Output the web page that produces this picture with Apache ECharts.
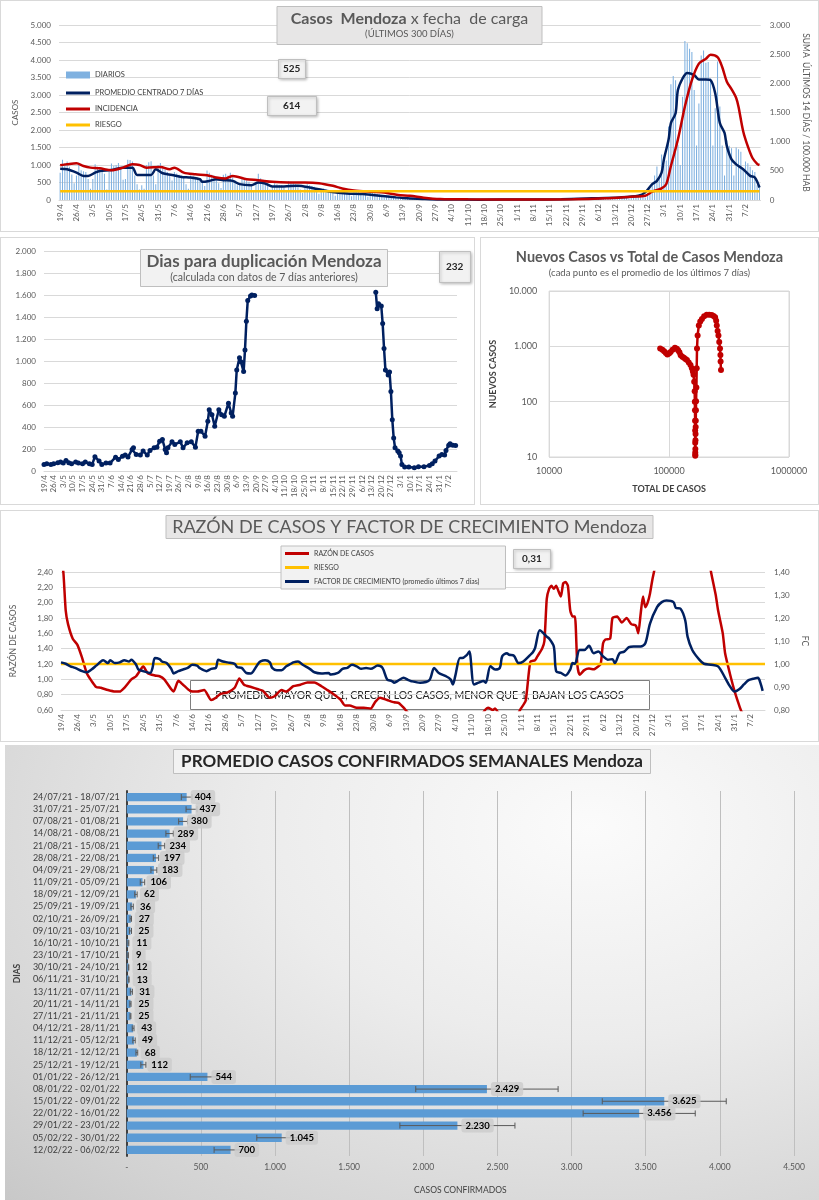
<!DOCTYPE html>
<html lang="es">
<head>
<meta charset="utf-8">
<title>Casos Mendoza</title>
<style>
	html, body { margin: 0; padding: 0; background: #fff; }
	.panel { position: absolute; box-sizing: border-box; border: 1px solid #d9d9d9; background: #fff; }
	#casos { left: 0; top: 0; width: 819px; height: 232px; }
	#duplicacion { left: 0; top: 237px; width: 475px; height: 268px; }
	#nuevos { left: 480px; top: 237px; width: 339px; height: 268px; }
	#razon { left: 0; top: 510px; width: 819px; height: 232px; }
	#semanal { left: 5px; top: 745px; width: 814px; height: 455px; border: none;
		background: radial-gradient(ellipse at 72% 18%, #fbfbfb 0%, #ececec 40%, #d2d2d2 85%, #c8c8c8 100%); }
</style>
</head>
<body>
<div class="panel" id="casos"></div>
<div class="panel" id="duplicacion"></div>
<div class="panel" id="nuevos"></div>
<div class="panel" id="razon"></div>
<div class="panel" id="semanal"></div>
<script src="https://cdn.jsdelivr.net/npm/echarts@6.0.0/dist/echarts.min.js"></script>
<script>
// fechas: 19/4/2021 a 13/2/2022 (300 días)
var fechas = [];
for (var k = 0; k < 301; k++) {
	var d = new Date(2021, 3, 19 + k);
	fechas.push(d.getDate() + '/' + (d.getMonth() + 1));
}

// casos diarios (una fila por semana, lunes a domingo)
var diarios = [
	780, 1150, 1050, 1100, 950, 730, 480,
	700, 1000, 850, 820, 800, 600, 320,
	600, 1020, 950, 900, 850, 750, 300,
	800, 1040, 980, 1000, 1060, 900, 580,
	600, 1150, 1140, 1100, 700, 450, 300,
	420, 320, 1000, 1080, 1110, 700, 450,
	1000, 1060, 950, 880, 800, 700, 560,
	800, 760, 720, 700, 650, 450, 320,
	700, 690, 660, 640, 600, 520, 400,
	840, 780, 720, 700, 650, 480, 340,
	720, 750, 700, 780, 650, 560, 420,
	450, 650, 600, 560, 520, 400, 280,
	500, 750, 620, 580, 540, 400, 300,
	380, 480, 450, 430, 420, 350, 280,
	540, 520, 480, 450, 420, 300, 200,
	400, 450, 420, 400, 380, 280, 180,
	320, 330, 310, 290, 260, 200, 120,
	180, 300, 280, 250, 230, 180, 110,
	220, 240, 220, 200, 190, 150, 90,
	280, 230, 200, 180, 160, 120, 70,
	110, 130, 120, 110, 100, 80, 50,
	70, 75, 70, 60, 55, 45, 30,
	40, 45, 40, 35, 30, 25, 15,
	30, 35, 30, 28, 25, 18, 12,
	25, 30, 28, 25, 22, 15, 10,
	12, 14, 12, 11, 10, 8, 5,
	8, 11, 10, 9, 9, 7, 5,
	12, 15, 13, 12, 12, 10, 8,
	13, 16, 14, 13, 12, 10, 8,
	30, 40, 35, 32, 30, 25, 18,
	25, 30, 28, 26, 24, 20, 15,
	25, 30, 28, 25, 24, 20, 16,
	40, 50, 45, 43, 42, 38, 30,
	50, 58, 52, 50, 48, 40, 32,
	70, 80, 72, 70, 65, 55, 45,
	100, 130, 125, 120, 140, 90, 70,
	200, 300, 420, 700, 960, 680, 1300,
	980, 1130, 2100, 3310, 3540, 3420, 1580,
	1000, 2950, 4540, 4480, 4320, 4230, 3140,
	1560, 2760, 4130, 4270, 3920, 3940, 3470,
	1560, 2620, 3960, 2670, 1560, 700, 1700,
	1550, 1480, 700, 1500, 1450, 1380, 900,
	1100, 1050, 950, 850, 800, 420, 400
];

// [día, valor]
var promedio7 = [[0,896],[3,877],[7,783],[10,689],[12,689],[15,783],[17,830],[22,858],[27,925],[31,925],[33,717],[39,717],[41,877],[44,764],[48,717],[52,660],[56,641],[60,594],[61,519],[64,547],[67,594],[70,566],[74,547],[77,453],[82,425],[85,500],[88,472],[91,387],[96,387],[102,406],[107,358],[112,292],[116,236],[123,189],[130,170],[137,123],[144,75],[149,47],[156,28],[163,15],[180,10],[200,14],[215,22],[228,47],[240,75],[248,123],[251,217],[254,453],[256,547],[258,783],[259,1160],[261,1726],[262,2198],[264,2481],[265,3141],[267,3472],[269,3632],[272,3566],[274,3443],[277,3443],[279,3424],[281,3047],[283,2198],[285,1915],[286,1538],[288,1160],[290,1019],[293,877],[296,689],[298,641],[300,358]];
var incidencia = [[0,594],[3,611],[7,628],[10,583],[13,555],[17,543],[22,509],[27,555],[31,611],[34,600],[37,555],[43,566],[47,526],[49,555],[53,470],[58,441],[63,425],[67,385],[71,368],[74,413],[80,357],[85,340],[91,311],[98,300],[105,300],[111,289],[117,243],[121,198],[126,164],[134,142],[139,130],[145,85],[150,74],[156,40],[163,17],[175,11],[200,10],[220,12],[234,28],[245,57],[251,74],[254,142],[258,198],[260,272],[262,583],[265,1036],[268,1602],[271,2055],[274,2338],[277,2422],[279,2490],[282,2451],[284,2281],[286,2026],[288,1900],[290,1750],[291,1600],[293,1180],[295,920],[297,720],[299,620],[300,600]];
var riesgoIncidencia = [[0,150],[300,150]];

var duplicacion = [[0,60],[2,66],[5,60],[7,66],[10,75],[12,81],[14,72],[16,96],[18,75],[20,66],[23,81],[25,72],[28,66],[30,81],[33,66],[35,60],[37,130],[40,90],[42,60],[45,72],[48,72],[52,126],[54,105],[57,135],[59,145],[61,127],[64,196],[65,211],[67,150],[70,145],[72,181],[75,145],[77,187],[80,211],[82,217],[84,271],[86,286],[88,196],[89,166],[90,211],[93,265],[95,241],[99,265],[101,211],[104,256],[107,265],[110,217],[112,361],[114,361],[117,316],[119,452],[120,557],[122,512],[124,407],[127,557],[129,512],[131,497],[134,617],[136,527],[137,497],[139,708],[140,919],[142,1030],[143,994],[145,904],[146,1099],[147,1361],[148,1551],[150,1590],[151,1600],[153,1596],[200,'-'],[241,1626],[242,1476],[243,1521],[245,1500],[246,1340],[247,1114],[248,919],[250,873],[251,900],[252,723],[253,467],[254,301],[255,211],[257,181],[258,166],[259,136],[260,60],[262,36],[265,36],[269,30],[272,39],[276,39],[280,51],[282,66],[284,90],[287,136],[289,151],[291,145],[292,187],[294,235],[295,247],[297,235],[299,232]];

// [total de casos, nuevos casos]
var nuevosVsTotal = [[84300,912],[88000,870],[91000,819],[94000,760],[96800,713],[100000,740],[103000,794],[107000,870],[112000,938],[116000,900],[119000,851],[122000,780],[125000,692],[129000,650],[133000,622],[137000,590],[141000,565],[146000,510],[151000,460],[155000,402],[158000,350],[160000,305],[162000,230],[163500,155],[164000,100],[164500,70],[164800,45],[165000,30],[165200,18],[165300,12],[165400,10.5],[165500,11],[165700,14],[166000,20],[166300,26],[166700,35],[167000,45],[167500,70],[168000,102],[169000,180],[170000,402],[171000,912],[173000,1577],[177000,2376],[182000,2800],[188000,3126],[196000,3500],[206000,3733],[216000,3720],[227000,3700],[235000,3550],[242000,3350],[247000,2900],[250000,2376],[254000,1900],[258000,1577],[262000,1200],[266000,912],[268000,700],[269000,530],[271000,375]];

var razonCasos = [[0,2.6],[1,2.4],[2,1.9],[3,1.72],[5,1.53],[7,1.45],[9,1.28],[11,1.08],[13,0.98],[15,0.9],[17,0.89],[20,0.86],[23,0.84],[25,0.84],[27,0.89],[30,1.0],[32,1.04],[34,1.13],[35,1.17],[37,1.08],[40,1.05],[42,1.04],[44,1.0],[47,0.87],[48,0.84],[50,0.98],[52,0.93],[55,0.85],[58,0.84],[61,0.86],[64,0.73],[66,0.76],[68,0.81],[71,0.83],[74,0.89],[76,1.01],[78,0.93],[81,0.9],[84,0.87],[86,0.85],[89,0.76],[91,0.78],[94,0.86],[96,0.84],[99,0.91],[102,0.93],[105,0.96],[108,0.96],[111,0.91],[113,0.87],[116,0.81],[119,0.74],[121,0.66],[123,0.66],[126,0.63],[129,0.63],[132,0.62],[134,0.71],[136,0.76],[139,0.73],[142,0.7],[144,0.69],[146,0.63],[148,0.56],[152,0.45],[160,0.35],[170,0.4],[178,0.5],[181,0.61],[182,0.63],[184,0.6],[185,0.62],[186,0.58],[190,0.45],[194,0.52],[196,0.62],[198,0.72],[200,1.23],[202,1.25],[203,1.3],[205,1.4],[206,1.5],[207,2.05],[208,2.18],[209,2.22],[210,2.18],[211,2.22],[212,2.15],[213,2.08],[214,2.25],[215,2.27],[216,2.22],[217,1.9],[218,1.82],[219,1.82],[220,1.2],[221,1.06],[223,1.12],[225,1.14],[227,1.13],[229,1.17],[230,1.2],[231,1.47],[232,1.52],[234,1.53],[235,1.8],[237,1.82],[239,1.74],[241,1.8],[243,1.72],[245,1.7],[246,1.6],[247,1.85],[248,2.08],[249,1.94],[250,2.0],[251,2.12],[252,2.3],[253,2.45],[256,3.2],[265,3.6],[272,3.2],[276,2.6],[277,2.4],[279,2.1],[280,1.9],[282,1.6],[283,1.34],[285,1.08],[287,0.85],[289,0.66],[290,0.58],[293,0.45],[300,0.31]];
var factorCrecimiento = [[0,1.007],[2,1.001],[4,0.99],[6,0.983],[9,0.969],[11,0.964],[13,0.976],[15,0.993],[17,1.011],[18,1.016],[20,1.004],[21,1.016],[23,1.004],[25,1.007],[27,1.016],[29,1.011],[30,1.019],[32,0.997],[33,0.976],[35,0.969],[38,0.961],[39,0.983],[40,1.026],[42,1.021],[43,1.011],[45,1.004],[47,0.979],[48,0.959],[50,0.969],[52,0.976],[54,0.983],[56,0.997],[58,0.993],[59,0.983],[62,0.969],[64,0.979],[66,0.983],[67,1.019],[69,1.011],[71,1.007],[74,1.001],[75,0.987],[77,0.983],[79,0.961],[81,0.959],[82,0.969],[84,1.001],[85,1.011],[87,1.016],[89,1.007],[90,0.983],[92,0.973],[94,0.973],[96,0.99],[98,1.001],[99,1.007],[101,1.011],[103,0.997],[106,0.979],[108,0.964],[111,0.959],[114,0.961],[115,0.954],[118,0.961],[120,0.979],[122,0.983],[124,0.997],[126,0.99],[128,0.979],[130,0.983],[132,0.979],[135,0.993],[137,0.983],[139,0.933],[141,0.926],[142,0.919],[144,0.93],[146,0.94],[148,0.93],[149,0.926],[153,0.919],[157,0.93],[159,0.983],[161,0.961],[164,0.947],[166,0.933],[167,0.911],[168,0.947],[170,1.026],[171,1.026],[173,1.04],[174,1.054],[176,0.911],[178,0.919],[180,0.926],[181,0.919],[183,0.99],[185,0.976],[187,0.983],[188,1.033],[190,1.047],[191,1.04],[193,1.036],[195,1.004],[197,1.011],[200,1.04],[201,1.05],[202,1.069],[204,1.147],[205,1.14],[207,1.119],[208,1.111],[210,1.076],[211,0.969],[213,0.961],[215,0.95],[217,0.976],[218,1.004],[219,1.001],[221,1.061],[223,1.061],[225,1.079],[227,1.047],[229,1.054],[231,1.033],[233,1.019],[235,1.021],[236,1.004],[238,1.047],[240,1.054],[242,1.073],[244,1.076],[247,1.076],[249,1.09],[251,1.176],[254,1.247],[256,1.269],[258,1.276],[261,1.269],[262,1.244],[264,1.24],[266,1.19],[267,1.119],[269,1.061],[272,1.019],[274,1.001],[277,0.997],[280,0.99],[283,0.94],[285,0.904],[287,0.88],[289,0.89],[291,0.911],[293,0.93],[295,0.936],[297,0.94],[298,0.919],[299,0.883]];
var riesgoFactor = [[0,1],[300,1]];

// promedio semanal
var semanas = ['24/07/21 - 18/07/21','31/07/21 - 25/07/21','07/08/21 - 01/08/21','14/08/21 - 08/08/21','21/08/21 - 15/08/21','28/08/21 - 22/08/21','04/09/21 - 29/08/21','11/09/21 - 05/09/21','18/09/21 - 12/09/21','25/09/21 - 19/09/21','02/10/21 - 26/09/21','09/10/21 - 03/10/21','16/10/21 - 10/10/21','23/10/21 - 17/10/21','30/10/21 - 24/10/21','06/11/21 - 31/10/21','13/11/21 - 07/11/21','20/11/21 - 14/11/21','27/11/21 - 21/11/21','04/12/21 - 28/11/21','11/12/21 - 05/12/21','18/12/21 - 12/12/21','25/12/21 - 19/12/21','01/01/22 - 26/12/21','08/01/22 - 02/01/22','15/01/22 - 09/01/22','22/01/22 - 16/01/22','29/01/22 - 23/01/22','05/02/22 - 30/01/22','12/02/22 - 06/02/22'];
var promedioSemanal = [404, 437, 380, 289, 234, 197, 183, 106, 62, 36, 27, 25, 11, 9, 12, 13, 31, 25, 25, 43, 49, 68, 112, 544, 2429, 3625, 3456, 2230, 1045, 700];
var errorSemanal = [36, 37, 30, 25, 22, 18, 20, 15, 8, 8, 5, 7, 3, 2, 2, 3, 7, 4, 3, 6, 8, 6, 17, 116, 480, 418, 378, 388, 168, 111];

var FUENTE = 'Lato, "Noto Sans", sans-serif';
var GRIS = '#595959';

function miles(v) {
	return String(Math.round(v)).replace(/\B(?=(\d{3})+(?!\d))/g, '.');
}
function coma(v) {
	return v.toFixed(2).replace('.', ',');
}
// cajita con un valor
function caja(texto, x, y, pad) {
	return {
		text: texto, left: x, top: y, padding: pad,
		backgroundColor: '#f2f2f2', borderColor: '#bfbfbf', borderWidth: 1,
		shadowBlur: 3, shadowColor: 'rgba(0,0,0,0.25)', shadowOffsetX: 1, shadowOffsetY: 1,
		textStyle: { fontSize: 10, fontWeight: 'bold', color: '#262626' }
	};
}
function ejeFechas(gap) {
	return {
		type: 'category', data: fechas, boundaryGap: gap,
		axisTick: { show: false },
		axisLine: { lineStyle: { color: '#d9d9d9' } },
		axisLabel: { interval: 6, rotate: 90, fontSize: 8, color: GRIS, margin: 4 }
	};
}

// 1) Casos x fecha de carga
var casos = echarts.init(document.getElementById('casos'));
casos.setOption({
	animation: false,
	textStyle: { fontFamily: FUENTE },
	title: [
		{
			text: '{b|Casos  Mendoza} x fecha  de carga', subtext: '(ÚLTIMOS 300 DÍAS)',
			left: 'center', top: 5, itemGap: 2, padding: [5, 14, 6, 14],
			backgroundColor: '#e7e6e6', borderColor: '#bfbfbf', borderWidth: 1,
			textStyle: { fontSize: 16, fontWeight: 'normal', color: GRIS,
				rich: { b: { fontSize: 16, fontWeight: 'bold', color: GRIS } } },
			subtextStyle: { fontSize: 9.5, color: GRIS }
		},
		caja('525', 277, 58, [5, 5]),
		caja('614', 266, 95, [5, 16])
	],
	legend: [
		{ data: ['DIARIOS'], left: 60, top: 65, icon: 'rect', itemWidth: 24, itemHeight: 7, selectedMode: false,
			textStyle: { fontSize: 7.5, color: '#404040' } },
		{ data: ['PROMEDIO CENTRADO 7 DÍAS', 'INCIDENCIA', 'RIESGO'], orient: 'vertical', left: 60, top: 83,
			icon: 'rect', itemWidth: 24, itemHeight: 3, itemGap: 8, selectedMode: false,
			textStyle: { fontSize: 7.5, color: '#404040' } }
	],
	grid: { left: 58, right: 52, top: 24, bottom: 31 },
	xAxis: ejeFechas(true),
	yAxis: [
		{
			type: 'value', min: 0, max: 5000, interval: 500,
			name: 'CASOS', nameLocation: 'middle', nameRotate: 90, nameGap: 40,
			nameTextStyle: { fontSize: 8, color: GRIS },
			axisLabel: { formatter: miles, fontSize: 8, color: GRIS },
			splitLine: { lineStyle: { color: '#d9d9d9' } }
		},
		{
			type: 'value', min: 0, max: 3000, interval: 500, position: 'right',
			name: 'SUMA  ÚLTIMOS 14 DÍAS / 100.000 HAB', nameLocation: 'middle', nameRotate: -90, nameGap: 38,
			nameTextStyle: { fontSize: 8.5, color: GRIS },
			axisLabel: { formatter: miles, fontSize: 8, color: GRIS, margin: 9 },
			splitLine: { show: false }
		}
	],
	series: [
		{ name: 'DIARIOS', type: 'bar', data: diarios, barCategoryGap: '55%', itemStyle: { color: '#7fb1e0' } },
		{ name: 'PROMEDIO CENTRADO 7 DÍAS', type: 'line', data: promedio7, showSymbol: false, smooth: 0.3,
			itemStyle: { color: '#002060' }, lineStyle: { color: '#002060', width: 2.5 } },
		{ name: 'INCIDENCIA', type: 'line', yAxisIndex: 1, data: incidencia, showSymbol: false, smooth: 0.3,
			itemStyle: { color: '#c00000' }, lineStyle: { color: '#c00000', width: 2.5 } },
		{ name: 'RIESGO', type: 'line', yAxisIndex: 1, data: riesgoIncidencia, showSymbol: false,
			itemStyle: { color: '#ffc000' }, lineStyle: { color: '#ffc000', width: 2.5 } }
	]
});

// 2) Dias para duplicación
var duplica = echarts.init(document.getElementById('duplicacion'));
duplica.setOption({
	animation: false,
	textStyle: { fontFamily: FUENTE },
	title: [
		{
			text: 'Dias para duplicación Mendoza', subtext: '(calculada con datos de 7 días anteriores)',
			left: 257, top: 11, textAlign: 'center', itemGap: 2, padding: [4, 6, 4, 6],
			backgroundColor: '#f2f2f2', borderColor: '#bfbfbf', borderWidth: 1,
			textStyle: { fontSize: 17, fontWeight: 'bold', color: GRIS },
			subtextStyle: { fontSize: 10.5, color: GRIS }
		},
		caja('232', 438, 13, [11, 7])
	],
	grid: { left: 43, right: 17, top: 13, bottom: 33 },
	xAxis: ejeFechas(false),
	yAxis: {
		type: 'value', min: 0, max: 2000, interval: 200,
		axisLabel: { formatter: miles, fontSize: 8, color: GRIS },
		splitLine: { lineStyle: { color: '#d9d9d9' } }
	},
	series: [{
		type: 'line', data: duplicacion, symbol: 'circle', symbolSize: 5, showAllSymbol: true,
		itemStyle: { color: '#002060' }, lineStyle: { color: '#002060', width: 2.5 }
	}]
});

// 3) Nuevos casos vs total (log-log)
var nuevos = echarts.init(document.getElementById('nuevos'));
nuevos.setOption({
	animation: false,
	textStyle: { fontFamily: FUENTE },
	title: {
		text: 'Nuevos Casos vs Total de Casos Mendoza', subtext: '(cada punto es el promedio de los últimos 7 días)',
		left: 'center', top: 7, itemGap: 3,
		textStyle: { fontSize: 14.5, fontWeight: 'bold', color: GRIS },
		subtextStyle: { fontSize: 9.5, color: GRIS }
	},
	grid: { left: 66, right: 29, top: 53, bottom: 47, show: true, borderColor: '#d9d9d9', borderWidth: 1 },
	xAxis: {
		type: 'log', logBase: 10, min: 10000, max: 1000000,
		name: 'TOTAL DE CASOS', nameLocation: 'middle', nameGap: 28,
		nameTextStyle: { fontSize: 9, fontWeight: 'bold', color: '#404040' },
		axisLine: { show: false }, axisTick: { show: false },
		axisLabel: { formatter: function (v) { return String(Math.round(v)); }, fontSize: 9, color: GRIS, margin: 10 },
		splitLine: { lineStyle: { color: '#d9d9d9' } }
	},
	yAxis: {
		type: 'log', logBase: 10, min: 10, max: 10000,
		name: 'NUEVOS CASOS', nameLocation: 'middle', nameRotate: 90, nameGap: 44,
		nameTextStyle: { fontSize: 9, fontWeight: 'bold', color: '#404040' },
		axisLine: { show: false }, axisTick: { show: false },
		axisLabel: { formatter: miles, fontSize: 9, color: GRIS, margin: 12 },
		splitLine: { lineStyle: { color: '#d9d9d9' } }
	},
	series: [{
		type: 'line', data: nuevosVsTotal, symbol: 'circle', symbolSize: 6,
		itemStyle: { color: '#c00000' }, lineStyle: { color: '#c00000', width: 2.5 }
	}]
});

// 4) Razón de casos y factor de crecimiento
var razon = echarts.init(document.getElementById('razon'));
razon.setOption({
	animation: false,
	textStyle: { fontFamily: FUENTE },
	title: [
		{
			text: 'RAZÓN DE CASOS Y FACTOR DE CRECIMIENTO Mendoza', left: 'center', top: 4, padding: [3, 6, 3, 6],
			backgroundColor: '#e7e6e6', borderColor: '#bfbfbf', borderWidth: 1,
			textStyle: { fontSize: 18, fontWeight: 'normal', color: GRIS }
		},
		caja('0,31', 512, 38, [5, 9])
	],
	legend: {
		data: ['RAZÓN DE CASOS', 'RIESGO', 'FACTOR DE CRECIMIENTO (promedio últimos 7 días)'],
		orient: 'vertical', left: 280, top: 35, padding: [4, 26, 4, 4], itemGap: 7,
		icon: 'rect', itemWidth: 24, itemHeight: 3, selectedMode: false,
		backgroundColor: '#f2f2f2', borderColor: '#bfbfbf', borderWidth: 1,
		textStyle: { fontSize: 7, color: '#404040' }
	},
	graphic: [{
		type: 'group', left: 187, top: 167,
		children: [
			{ type: 'rect', shape: { x: 0, y: 0, width: 459, height: 29 }, style: { fill: 'none', stroke: '#7f7f7f', lineWidth: 1 } },
			{ type: 'text', x: 229, y: 15, style: { text: 'PROMEDIO MAYOR QUE 1, CRECEN LOS CASOS, MENOR QUE 1, BAJAN LOS CASOS',
				align: 'center', verticalAlign: 'middle', fontSize: 10.5, fill: '#262626', fontFamily: FUENTE } }
		]
	}],
	grid: { left: 59, right: 53, top: 61, bottom: 31 },
	xAxis: ejeFechas(false),
	yAxis: [
		{
			type: 'value', min: 0.6, max: 2.4, interval: 0.2,
			name: 'RAZÓN DE CASOS', nameLocation: 'middle', nameRotate: 90, nameGap: 43,
			nameTextStyle: { fontSize: 8.5, color: GRIS },
			axisLabel: { formatter: coma, fontSize: 8, color: GRIS },
			splitLine: { lineStyle: { color: '#d9d9d9' } }
		},
		{
			type: 'value', min: 0.8, max: 1.4, interval: 0.1, position: 'right',
			name: 'FC', nameLocation: 'middle', nameRotate: -90, nameGap: 34,
			nameTextStyle: { fontSize: 8.5, color: GRIS },
			axisLabel: { formatter: coma, fontSize: 8, color: GRIS, margin: 9 },
			splitLine: { show: false }
		}
	],
	series: [
		{ name: 'RAZÓN DE CASOS', type: 'line', data: razonCasos, showSymbol: false, smooth: 0.2,
			itemStyle: { color: '#c00000' }, lineStyle: { color: '#c00000', width: 2.5 } },
		{ name: 'RIESGO', type: 'line', yAxisIndex: 1, data: riesgoFactor, showSymbol: false,
			itemStyle: { color: '#ffc000' }, lineStyle: { color: '#ffc000', width: 2.5 } },
		{ name: 'FACTOR DE CRECIMIENTO (promedio últimos 7 días)', type: 'line', yAxisIndex: 1, data: factorCrecimiento,
			showSymbol: false, smooth: 0.3,
			itemStyle: { color: '#002060' }, lineStyle: { color: '#002060', width: 2.5 } }
	]
});

// 5) Promedio semanal con barras de error
var semanal = echarts.init(document.getElementById('semanal'));
var errores = promedioSemanal.map(function (v, i) { return [v - errorSemanal[i], v + errorSemanal[i], i]; });
semanal.setOption({
	animation: false,
	textStyle: { fontFamily: FUENTE },
	title: {
		text: 'PROMEDIO CASOS CONFIRMADOS SEMANALES Mendoza', left: 'center', top: 4, padding: [4, 8, 4, 8],
		backgroundColor: '#f2f2f2', borderColor: '#bfbfbf', borderWidth: 1,
		textStyle: { fontSize: 17, fontWeight: 'bold', color: '#262626' }
	},
	grid: { left: 117, right: 25, top: 46, bottom: 42 },
	xAxis: {
		type: 'value', min: 0, max: 4500, interval: 500,
		name: 'CASOS CONFIRMADOS', nameLocation: 'middle', nameGap: 30,
		nameTextStyle: { fontSize: 8.5, color: '#404040' },
		axisLabel: { formatter: function (v) { return v === 0 ? '-' : miles(v); }, fontSize: 8.5, color: GRIS, margin: 7 },
		splitLine: { lineStyle: { color: '#bfbfbf' } }
	},
	yAxis: {
		type: 'category', data: semanas, inverse: true,
		name: 'DIAS', nameLocation: 'middle', nameRotate: 90, nameGap: 102,
		nameTextStyle: { fontSize: 8.5, fontWeight: 'bold', color: '#404040' },
		axisTick: { show: false },
		axisLine: { lineStyle: { color: '#404040', width: 2 } },
		axisLabel: { fontSize: 9, color: '#404040', margin: 7 }
	},
	series: [
		{ type: 'bar', data: promedioSemanal, barCategoryGap: '32%', z: 2, silent: true,
			itemStyle: { color: '#5b9bd5' } },
		{
			type: 'custom', data: errores, z: 3, silent: true,
			encode: { x: [0, 1], y: 2 },
			renderItem: function (params, api) {
				var a = api.coord([api.value(0), api.value(2)]);
				var b = api.coord([api.value(1), api.value(2)]);
				var st = { stroke: '#595959', lineWidth: 1 };
				return { type: 'group', children: [
					{ type: 'line', shape: { x1: a[0], y1: a[1], x2: b[0], y2: b[1] }, style: st },
					{ type: 'line', shape: { x1: a[0], y1: a[1] - 3, x2: a[0], y2: a[1] + 3 }, style: st },
					{ type: 'line', shape: { x1: b[0], y1: b[1] - 3, x2: b[0], y2: b[1] + 3 }, style: st }
				] };
			}
		},
		{ type: 'bar', data: promedioSemanal, barGap: '-100%', barCategoryGap: '32%', z: 4, silent: true,
			itemStyle: { color: 'rgba(0,0,0,0)' },
			label: { show: true, position: 'right', distance: 4,
				formatter: function (p) { return miles(p.value); },
				fontSize: 9.5, fontWeight: 'bold', color: '#000',
				backgroundColor: 'rgba(205,205,205,0.85)', padding: [2, 4], borderRadius: 3 } }
	]
});
</script>
</body>
</html>
